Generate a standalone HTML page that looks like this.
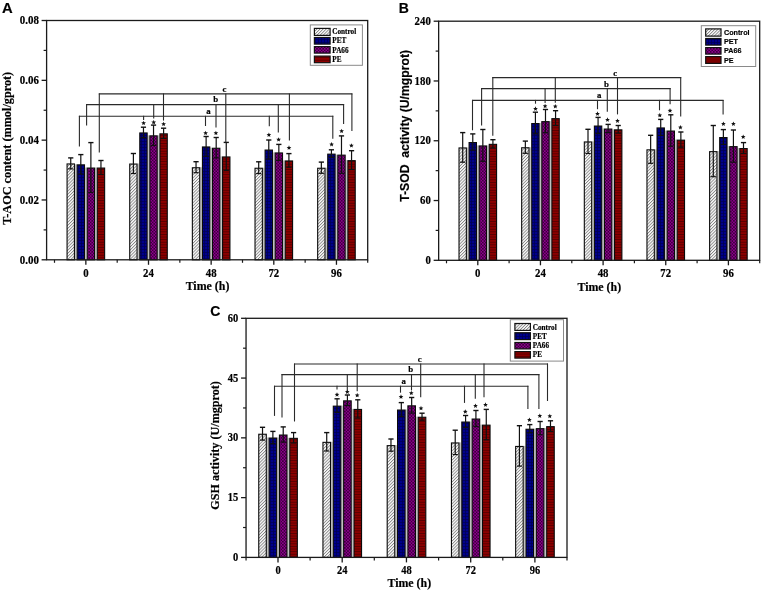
<!DOCTYPE html><html><head><meta charset="utf-8"><style>html,body{margin:0;padding:0;background:#fff;}svg{display:block;filter:blur(0.35px);} text{fill:#000;stroke:#000;stroke-width:0.18px;}</style></head><body>
<svg width="763" height="592" viewBox="0 0 763 592">
<defs>
<pattern id="pC" patternUnits="userSpaceOnUse" width="2.2" height="2.2" patternTransform="rotate(45)">
<rect width="2.2" height="2.2" fill="#fafafa"/><rect width="0.85" height="2.2" fill="#858585"/></pattern>
<pattern id="pPET" patternUnits="userSpaceOnUse" width="3" height="3">
<rect width="3" height="3" fill="#00008c"/><rect width="0.7" height="3" fill="#000050"/><rect width="3" height="0.7" fill="#000050"/></pattern>
<pattern id="pPA" patternUnits="userSpaceOnUse" width="3.1" height="3.1">
<rect width="3.1" height="3.1" fill="#3c003c"/><rect width="1.55" height="1.55" fill="#8e008e"/><rect x="1.55" y="1.55" width="1.55" height="1.55" fill="#8e008e"/></pattern>
<pattern id="pPE" patternUnits="userSpaceOnUse" width="2.6" height="2.6">
<rect width="2.6" height="2.6" fill="#8c0000"/><rect width="2.6" height="0.8" fill="#520000"/></pattern>
</defs>
<rect width="763" height="592" fill="#fff"/>
<rect x="74.97" y="164.3" width="1.62" height="95.5" fill="#c0c0c0"/>
<rect x="67.07" y="163.95" width="7.35" height="95.85" fill="url(#pC)" stroke="#0a0a0a" stroke-width="1.1"/>
<line x1="70.74" y1="157.9" x2="70.74" y2="168.9" stroke="#111" stroke-width="1.2"/>
<line x1="68.14" y1="157.9" x2="73.34" y2="157.9" stroke="#111" stroke-width="1.4"/>
<line x1="68.14" y1="168.9" x2="73.34" y2="168.9" stroke="#111" stroke-width="1.2"/>
<rect x="85.04" y="167.5" width="1.62" height="92.3" fill="#c0c0c0"/>
<rect x="77.14" y="164.85" width="7.35" height="94.95" fill="url(#pPET)" stroke="#0a0a0a" stroke-width="1.1"/>
<line x1="80.81" y1="154.6" x2="80.81" y2="174" stroke="#111" stroke-width="1.2"/>
<line x1="78.21" y1="154.6" x2="83.41" y2="154.6" stroke="#111" stroke-width="1.4"/>
<line x1="78.21" y1="174" x2="83.41" y2="174" stroke="#111" stroke-width="1.2"/>
<rect x="95.11" y="167.5" width="1.62" height="92.3" fill="#c0c0c0"/>
<rect x="87.21" y="168.05" width="7.35" height="91.75" fill="url(#pPA)" stroke="#0a0a0a" stroke-width="1.1"/>
<line x1="90.88" y1="142.6" x2="90.88" y2="192.4" stroke="#111" stroke-width="1.2"/>
<line x1="88.28" y1="142.6" x2="93.48" y2="142.6" stroke="#111" stroke-width="1.4"/>
<line x1="88.28" y1="192.4" x2="93.48" y2="192.4" stroke="#111" stroke-width="1.2"/>
<rect x="97.28" y="168.05" width="7.35" height="91.75" fill="url(#pPE)" stroke="#0a0a0a" stroke-width="1.1"/>
<line x1="100.95" y1="160.5" x2="100.95" y2="174.5" stroke="#111" stroke-width="1.2"/>
<line x1="98.35" y1="160.5" x2="103.55" y2="160.5" stroke="#111" stroke-width="1.4"/>
<line x1="98.35" y1="174.5" x2="103.55" y2="174.5" stroke="#111" stroke-width="1.2"/>
<rect x="137.62" y="163.5" width="1.62" height="96.3" fill="#c0c0c0"/>
<rect x="129.72" y="164.05" width="7.35" height="95.75" fill="url(#pC)" stroke="#0a0a0a" stroke-width="1.1"/>
<line x1="133.4" y1="153.5" x2="133.4" y2="173.5" stroke="#111" stroke-width="1.2"/>
<line x1="130.8" y1="153.5" x2="136" y2="153.5" stroke="#111" stroke-width="1.4"/>
<line x1="130.8" y1="173.5" x2="136" y2="173.5" stroke="#111" stroke-width="1.2"/>
<rect x="147.69" y="135.3" width="1.62" height="124.5" fill="#c0c0c0"/>
<rect x="139.79" y="132.95" width="7.35" height="126.85" fill="url(#pPET)" stroke="#0a0a0a" stroke-width="1.1"/>
<line x1="143.47" y1="127.2" x2="143.47" y2="137.6" stroke="#111" stroke-width="1.2"/>
<line x1="140.87" y1="127.2" x2="146.06" y2="127.2" stroke="#111" stroke-width="1.4"/>
<line x1="140.87" y1="137.6" x2="146.06" y2="137.6" stroke="#111" stroke-width="1.2"/>
<rect x="157.76" y="135.3" width="1.62" height="124.5" fill="#c0c0c0"/>
<rect x="149.86" y="135.85" width="7.35" height="123.95" fill="url(#pPA)" stroke="#0a0a0a" stroke-width="1.1"/>
<line x1="153.53" y1="125.1" x2="153.53" y2="145.5" stroke="#111" stroke-width="1.2"/>
<line x1="150.94" y1="125.1" x2="156.13" y2="125.1" stroke="#111" stroke-width="1.4"/>
<line x1="150.94" y1="145.5" x2="156.13" y2="145.5" stroke="#111" stroke-width="1.2"/>
<rect x="159.93" y="133.85" width="7.35" height="125.95" fill="url(#pPE)" stroke="#0a0a0a" stroke-width="1.1"/>
<line x1="163.6" y1="128.2" x2="163.6" y2="138.4" stroke="#111" stroke-width="1.2"/>
<line x1="161" y1="128.2" x2="166.2" y2="128.2" stroke="#111" stroke-width="1.4"/>
<line x1="161" y1="138.4" x2="166.2" y2="138.4" stroke="#111" stroke-width="1.2"/>
<rect x="200.27" y="167.2" width="1.62" height="92.6" fill="#c0c0c0"/>
<rect x="192.37" y="167.75" width="7.35" height="92.05" fill="url(#pC)" stroke="#0a0a0a" stroke-width="1.1"/>
<line x1="196.04" y1="161.7" x2="196.04" y2="172.7" stroke="#111" stroke-width="1.2"/>
<line x1="193.44" y1="161.7" x2="198.64" y2="161.7" stroke="#111" stroke-width="1.4"/>
<line x1="193.44" y1="172.7" x2="198.64" y2="172.7" stroke="#111" stroke-width="1.2"/>
<rect x="210.34" y="147.7" width="1.62" height="112.1" fill="#c0c0c0"/>
<rect x="202.44" y="146.95" width="7.35" height="112.85" fill="url(#pPET)" stroke="#0a0a0a" stroke-width="1.1"/>
<line x1="206.12" y1="136.5" x2="206.12" y2="156.3" stroke="#111" stroke-width="1.2"/>
<line x1="203.52" y1="136.5" x2="208.72" y2="136.5" stroke="#111" stroke-width="1.4"/>
<line x1="203.52" y1="156.3" x2="208.72" y2="156.3" stroke="#111" stroke-width="1.2"/>
<rect x="220.41" y="156.4" width="1.62" height="103.4" fill="#c0c0c0"/>
<rect x="212.51" y="148.25" width="7.35" height="111.55" fill="url(#pPA)" stroke="#0a0a0a" stroke-width="1.1"/>
<line x1="216.19" y1="137.5" x2="216.19" y2="157.9" stroke="#111" stroke-width="1.2"/>
<line x1="213.59" y1="137.5" x2="218.78" y2="137.5" stroke="#111" stroke-width="1.4"/>
<line x1="213.59" y1="157.9" x2="218.78" y2="157.9" stroke="#111" stroke-width="1.2"/>
<rect x="222.58" y="156.95" width="7.35" height="102.85" fill="url(#pPE)" stroke="#0a0a0a" stroke-width="1.1"/>
<line x1="226.25" y1="142.4" x2="226.25" y2="170.4" stroke="#111" stroke-width="1.2"/>
<line x1="223.66" y1="142.4" x2="228.85" y2="142.4" stroke="#111" stroke-width="1.4"/>
<line x1="223.66" y1="170.4" x2="228.85" y2="170.4" stroke="#111" stroke-width="1.2"/>
<rect x="262.92" y="167.7" width="1.62" height="92.1" fill="#c0c0c0"/>
<rect x="255.02" y="168.25" width="7.35" height="91.55" fill="url(#pC)" stroke="#0a0a0a" stroke-width="1.1"/>
<line x1="258.7" y1="161.8" x2="258.7" y2="173.6" stroke="#111" stroke-width="1.2"/>
<line x1="256.1" y1="161.8" x2="261.3" y2="161.8" stroke="#111" stroke-width="1.4"/>
<line x1="256.1" y1="173.6" x2="261.3" y2="173.6" stroke="#111" stroke-width="1.2"/>
<rect x="272.99" y="152.4" width="1.62" height="107.4" fill="#c0c0c0"/>
<rect x="265.09" y="150.05" width="7.35" height="109.75" fill="url(#pPET)" stroke="#0a0a0a" stroke-width="1.1"/>
<line x1="268.77" y1="140" x2="268.77" y2="159" stroke="#111" stroke-width="1.2"/>
<line x1="266.17" y1="140" x2="271.37" y2="140" stroke="#111" stroke-width="1.4"/>
<line x1="266.17" y1="159" x2="271.37" y2="159" stroke="#111" stroke-width="1.2"/>
<rect x="283.06" y="160.4" width="1.62" height="99.4" fill="#c0c0c0"/>
<rect x="275.16" y="152.95" width="7.35" height="106.85" fill="url(#pPA)" stroke="#0a0a0a" stroke-width="1.1"/>
<line x1="278.84" y1="144.4" x2="278.84" y2="160.4" stroke="#111" stroke-width="1.2"/>
<line x1="276.24" y1="144.4" x2="281.44" y2="144.4" stroke="#111" stroke-width="1.4"/>
<line x1="276.24" y1="160.4" x2="281.44" y2="160.4" stroke="#111" stroke-width="1.2"/>
<rect x="285.23" y="160.95" width="7.35" height="98.85" fill="url(#pPE)" stroke="#0a0a0a" stroke-width="1.1"/>
<line x1="288.91" y1="153.6" x2="288.91" y2="167.2" stroke="#111" stroke-width="1.2"/>
<line x1="286.31" y1="153.6" x2="291.51" y2="153.6" stroke="#111" stroke-width="1.4"/>
<line x1="286.31" y1="167.2" x2="291.51" y2="167.2" stroke="#111" stroke-width="1.2"/>
<rect x="325.57" y="167.7" width="1.62" height="92.1" fill="#c0c0c0"/>
<rect x="317.67" y="168.25" width="7.35" height="91.55" fill="url(#pC)" stroke="#0a0a0a" stroke-width="1.1"/>
<line x1="321.35" y1="162.1" x2="321.35" y2="173.3" stroke="#111" stroke-width="1.2"/>
<line x1="318.75" y1="162.1" x2="323.95" y2="162.1" stroke="#111" stroke-width="1.4"/>
<line x1="318.75" y1="173.3" x2="323.95" y2="173.3" stroke="#111" stroke-width="1.2"/>
<rect x="335.64" y="154.6" width="1.62" height="105.2" fill="#c0c0c0"/>
<rect x="327.74" y="154.15" width="7.35" height="105.65" fill="url(#pPET)" stroke="#0a0a0a" stroke-width="1.1"/>
<line x1="331.42" y1="149.8" x2="331.42" y2="157.4" stroke="#111" stroke-width="1.2"/>
<line x1="328.81" y1="149.8" x2="334.02" y2="149.8" stroke="#111" stroke-width="1.4"/>
<line x1="328.81" y1="157.4" x2="334.02" y2="157.4" stroke="#111" stroke-width="1.2"/>
<rect x="345.71" y="160.1" width="1.62" height="99.7" fill="#c0c0c0"/>
<rect x="337.81" y="155.15" width="7.35" height="104.65" fill="url(#pPA)" stroke="#0a0a0a" stroke-width="1.1"/>
<line x1="341.49" y1="135.9" x2="341.49" y2="173.3" stroke="#111" stroke-width="1.2"/>
<line x1="338.88" y1="135.9" x2="344.09" y2="135.9" stroke="#111" stroke-width="1.4"/>
<line x1="338.88" y1="173.3" x2="344.09" y2="173.3" stroke="#111" stroke-width="1.2"/>
<rect x="347.88" y="160.65" width="7.35" height="99.15" fill="url(#pPE)" stroke="#0a0a0a" stroke-width="1.1"/>
<line x1="351.56" y1="150.7" x2="351.56" y2="169.5" stroke="#111" stroke-width="1.2"/>
<line x1="348.95" y1="150.7" x2="354.16" y2="150.7" stroke="#111" stroke-width="1.4"/>
<line x1="348.95" y1="169.5" x2="354.16" y2="169.5" stroke="#111" stroke-width="1.2"/>
<polygon points="143.6,120.65 144.25,122.21 145.93,122.34 144.65,123.44 145.04,125.08 143.6,124.2 142.16,125.08 142.55,123.44 141.27,122.34 142.95,122.21" fill="#111"/>
<polygon points="153.7,119.85 154.35,121.41 156.03,121.54 154.75,122.64 155.14,124.28 153.7,123.4 152.26,124.28 152.65,122.64 151.37,121.54 153.05,121.41" fill="#111"/>
<polygon points="163.6,121.65 164.25,123.21 165.93,123.34 164.65,124.44 165.04,126.08 163.6,125.2 162.16,126.08 162.55,124.44 161.27,123.34 162.95,123.21" fill="#111"/>
<polygon points="205.6,130.65 206.25,132.21 207.93,132.34 206.65,133.44 207.04,135.08 205.6,134.2 204.16,135.08 204.55,133.44 203.27,132.34 204.95,132.21" fill="#111"/>
<polygon points="215.9,130.65 216.55,132.21 218.23,132.34 216.95,133.44 217.34,135.08 215.9,134.2 214.46,135.08 214.85,133.44 213.57,132.34 215.25,132.21" fill="#111"/>
<polygon points="268.9,132.45 269.55,134.01 271.23,134.14 269.95,135.24 270.34,136.88 268.9,136 267.46,136.88 267.85,135.24 266.57,134.14 268.25,134.01" fill="#111"/>
<polygon points="278.6,137.15 279.25,138.71 280.93,138.84 279.65,139.94 280.04,141.58 278.6,140.7 277.16,141.58 277.55,139.94 276.27,138.84 277.95,138.71" fill="#111"/>
<polygon points="289,145.35 289.65,146.91 291.33,147.04 290.05,148.14 290.44,149.78 289,148.9 287.56,149.78 287.95,148.14 286.67,147.04 288.35,146.91" fill="#111"/>
<polygon points="331.6,141.95 332.25,143.51 333.93,143.64 332.65,144.74 333.04,146.38 331.6,145.5 330.16,146.38 330.55,144.74 329.27,143.64 330.95,143.51" fill="#111"/>
<polygon points="341.6,128.65 342.25,130.21 343.93,130.34 342.65,131.44 343.04,133.08 341.6,132.2 340.16,133.08 340.55,131.44 339.27,130.34 340.95,130.21" fill="#111"/>
<polygon points="351.4,143.15 352.05,144.71 353.73,144.84 352.45,145.94 352.84,147.58 351.4,146.7 349.96,147.58 350.35,145.94 349.07,144.84 350.75,144.71" fill="#111"/>
<line x1="78.9" y1="116.3" x2="333.3" y2="116.3" stroke="#2a2a2a" stroke-width="1.1"/>
<line x1="79.4" y1="115.8" x2="79.4" y2="146.5" stroke="#2a2a2a" stroke-width="1.1"/>
<line x1="143.6" y1="115.8" x2="143.6" y2="120" stroke="#2a2a2a" stroke-width="1.1"/>
<line x1="205.5" y1="115.8" x2="205.5" y2="126" stroke="#2a2a2a" stroke-width="1.1"/>
<line x1="269.3" y1="115.8" x2="269.3" y2="126.3" stroke="#2a2a2a" stroke-width="1.1"/>
<line x1="332.8" y1="115.8" x2="332.8" y2="138.8" stroke="#2a2a2a" stroke-width="1.1"/>
<line x1="86.1" y1="104.6" x2="344.1" y2="104.6" stroke="#2a2a2a" stroke-width="1.1"/>
<line x1="86.6" y1="104.1" x2="86.6" y2="125.4" stroke="#2a2a2a" stroke-width="1.1"/>
<line x1="153.7" y1="104.1" x2="153.7" y2="118.5" stroke="#2a2a2a" stroke-width="1.1"/>
<line x1="216" y1="104.1" x2="216" y2="127.4" stroke="#2a2a2a" stroke-width="1.1"/>
<line x1="278.3" y1="104.1" x2="278.3" y2="132.5" stroke="#2a2a2a" stroke-width="1.1"/>
<line x1="343.6" y1="104.1" x2="343.6" y2="124" stroke="#2a2a2a" stroke-width="1.1"/>
<line x1="98.8" y1="93.9" x2="352.4" y2="93.9" stroke="#2a2a2a" stroke-width="1.1"/>
<line x1="99.3" y1="93.4" x2="99.3" y2="152.4" stroke="#2a2a2a" stroke-width="1.1"/>
<line x1="163.5" y1="93.4" x2="163.5" y2="120.6" stroke="#2a2a2a" stroke-width="1.1"/>
<line x1="225.8" y1="93.4" x2="225.8" y2="142.4" stroke="#2a2a2a" stroke-width="1.1"/>
<line x1="289.4" y1="93.4" x2="289.4" y2="140.5" stroke="#2a2a2a" stroke-width="1.1"/>
<line x1="351.9" y1="93.4" x2="351.9" y2="131" stroke="#2a2a2a" stroke-width="1.1"/>
<text x="208.5" y="113.8" font-family='"Liberation Serif", serif' font-weight="bold" font-size="8.8" text-anchor="middle">a</text>
<text x="215.7" y="102.1" font-family='"Liberation Serif", serif' font-weight="bold" font-size="8.8" text-anchor="middle">b</text>
<text x="224.5" y="92" font-family='"Liberation Serif", serif' font-weight="bold" font-size="8.8" text-anchor="middle">c</text>
<rect x="46.6" y="20.5" width="321.1" height="239.3" fill="none" stroke="#1a1a1a" stroke-width="1.3"/>
<line x1="41.6" y1="259.8" x2="46.6" y2="259.8" stroke="#1a1a1a" stroke-width="1.3"/>
<text transform="translate(38.9 263.6) scale(1 1.13)" font-family='"Liberation Serif", serif' font-weight="bold" font-size="10.9" text-anchor="end">0.00</text>
<line x1="43.6" y1="229.89" x2="46.6" y2="229.89" stroke="#1a1a1a" stroke-width="1.2"/>
<line x1="41.6" y1="199.97" x2="46.6" y2="199.97" stroke="#1a1a1a" stroke-width="1.3"/>
<text transform="translate(38.9 203.78) scale(1 1.13)" font-family='"Liberation Serif", serif' font-weight="bold" font-size="10.9" text-anchor="end">0.02</text>
<line x1="43.6" y1="170.06" x2="46.6" y2="170.06" stroke="#1a1a1a" stroke-width="1.2"/>
<line x1="41.6" y1="140.15" x2="46.6" y2="140.15" stroke="#1a1a1a" stroke-width="1.3"/>
<text transform="translate(38.9 143.95) scale(1 1.13)" font-family='"Liberation Serif", serif' font-weight="bold" font-size="10.9" text-anchor="end">0.04</text>
<line x1="43.6" y1="110.24" x2="46.6" y2="110.24" stroke="#1a1a1a" stroke-width="1.2"/>
<line x1="41.6" y1="80.33" x2="46.6" y2="80.33" stroke="#1a1a1a" stroke-width="1.3"/>
<text transform="translate(38.9 84.12) scale(1 1.13)" font-family='"Liberation Serif", serif' font-weight="bold" font-size="10.9" text-anchor="end">0.06</text>
<line x1="43.6" y1="50.41" x2="46.6" y2="50.41" stroke="#1a1a1a" stroke-width="1.2"/>
<line x1="41.6" y1="20.5" x2="46.6" y2="20.5" stroke="#1a1a1a" stroke-width="1.3"/>
<text transform="translate(38.9 24.3) scale(1 1.13)" font-family='"Liberation Serif", serif' font-weight="bold" font-size="10.9" text-anchor="end">0.08</text>
<line x1="85.85" y1="259.8" x2="85.85" y2="264.8" stroke="#1a1a1a" stroke-width="1.3"/>
<text transform="translate(85.85 276.6) scale(1 1.17)" font-family='"Liberation Serif", serif' font-weight="bold" font-size="10.8" text-anchor="middle">0</text>
<line x1="148.5" y1="259.8" x2="148.5" y2="264.8" stroke="#1a1a1a" stroke-width="1.3"/>
<text transform="translate(148.5 276.6) scale(1 1.17)" font-family='"Liberation Serif", serif' font-weight="bold" font-size="10.8" text-anchor="middle">24</text>
<line x1="211.15" y1="259.8" x2="211.15" y2="264.8" stroke="#1a1a1a" stroke-width="1.3"/>
<text transform="translate(211.15 276.6) scale(1 1.17)" font-family='"Liberation Serif", serif' font-weight="bold" font-size="10.8" text-anchor="middle">48</text>
<line x1="273.8" y1="259.8" x2="273.8" y2="264.8" stroke="#1a1a1a" stroke-width="1.3"/>
<text transform="translate(273.8 276.6) scale(1 1.17)" font-family='"Liberation Serif", serif' font-weight="bold" font-size="10.8" text-anchor="middle">72</text>
<line x1="336.45" y1="259.8" x2="336.45" y2="264.8" stroke="#1a1a1a" stroke-width="1.3"/>
<text transform="translate(336.45 276.6) scale(1 1.17)" font-family='"Liberation Serif", serif' font-weight="bold" font-size="10.8" text-anchor="middle">96</text>
<line x1="54.5" y1="259.8" x2="54.5" y2="262.8" stroke="#1a1a1a" stroke-width="1.2"/>
<line x1="117.2" y1="259.8" x2="117.2" y2="262.8" stroke="#1a1a1a" stroke-width="1.2"/>
<line x1="179.85" y1="259.8" x2="179.85" y2="262.8" stroke="#1a1a1a" stroke-width="1.2"/>
<line x1="242.5" y1="259.8" x2="242.5" y2="262.8" stroke="#1a1a1a" stroke-width="1.2"/>
<line x1="305.15" y1="259.8" x2="305.15" y2="262.8" stroke="#1a1a1a" stroke-width="1.2"/>
<line x1="367.7" y1="259.8" x2="367.7" y2="262.8" stroke="#1a1a1a" stroke-width="1.2"/>
<text transform="translate(207.5 290.2) scale(1 1.04)" font-family='"Liberation Serif", serif' font-weight="bold" font-size="11.9" text-anchor="middle">Time (h)</text>
<text transform="translate(10.9 148.3) rotate(-90)" font-family='"Liberation Serif", serif' font-weight="bold" font-size="11.8" text-anchor="middle" textLength="153" lengthAdjust="spacingAndGlyphs">T-AOC content (mmol/gprot)</text>
<text x="1.9" y="12.7" font-family='"Liberation Sans", sans-serif' font-weight="bold" font-size="14.8">A</text>
<rect x="310.3" y="24.9" width="52.1" height="40.4" fill="#fff" stroke="#8a8a8a" stroke-width="1"/>
<rect x="314.4" y="28.4" width="15.7" height="7" fill="url(#pC)" stroke="#111" stroke-width="1.2"/>
<text transform="translate(332.3 34.2) scale(1 1)" font-family='"Liberation Serif", serif' font-weight="bold" font-size="7.2">Control</text>
<rect x="314.4" y="37.5" width="15.7" height="6.6" fill="url(#pPET)" stroke="#111" stroke-width="1.2"/>
<text transform="translate(332.3 43.4) scale(1 1)" font-family='"Liberation Serif", serif' font-weight="bold" font-size="7.2">PET</text>
<rect x="314.4" y="46.6" width="15.7" height="6.5" fill="url(#pPA)" stroke="#111" stroke-width="1.2"/>
<text transform="translate(332.3 52.8) scale(1 1)" font-family='"Liberation Serif", serif' font-weight="bold" font-size="7.2">PA66</text>
<rect x="314.4" y="56.1" width="15.7" height="6.6" fill="url(#pPE)" stroke="#111" stroke-width="1.2"/>
<text transform="translate(332.3 61.8) scale(1 1)" font-family='"Liberation Serif", serif' font-weight="bold" font-size="7.2">PE</text>
<rect x="466.92" y="147.4" width="1.62" height="112.9" fill="#c0c0c0"/>
<rect x="459.02" y="147.95" width="7.35" height="112.35" fill="url(#pC)" stroke="#0a0a0a" stroke-width="1.1"/>
<line x1="462.7" y1="132.6" x2="462.7" y2="162.2" stroke="#111" stroke-width="1.2"/>
<line x1="460.1" y1="132.6" x2="465.3" y2="132.6" stroke="#111" stroke-width="1.4"/>
<line x1="460.1" y1="162.2" x2="465.3" y2="162.2" stroke="#111" stroke-width="1.2"/>
<rect x="476.99" y="145.4" width="1.62" height="114.9" fill="#c0c0c0"/>
<rect x="469.09" y="142.55" width="7.35" height="117.75" fill="url(#pPET)" stroke="#0a0a0a" stroke-width="1.1"/>
<line x1="472.77" y1="133.9" x2="472.77" y2="150.1" stroke="#111" stroke-width="1.2"/>
<line x1="470.17" y1="133.9" x2="475.37" y2="133.9" stroke="#111" stroke-width="1.4"/>
<line x1="470.17" y1="150.1" x2="475.37" y2="150.1" stroke="#111" stroke-width="1.2"/>
<rect x="487.06" y="145.4" width="1.62" height="114.9" fill="#c0c0c0"/>
<rect x="479.16" y="145.95" width="7.35" height="114.35" fill="url(#pPA)" stroke="#0a0a0a" stroke-width="1.1"/>
<line x1="482.84" y1="129.5" x2="482.84" y2="161.3" stroke="#111" stroke-width="1.2"/>
<line x1="480.24" y1="129.5" x2="485.44" y2="129.5" stroke="#111" stroke-width="1.4"/>
<line x1="480.24" y1="161.3" x2="485.44" y2="161.3" stroke="#111" stroke-width="1.2"/>
<rect x="489.23" y="144.35" width="7.35" height="115.95" fill="url(#pPE)" stroke="#0a0a0a" stroke-width="1.1"/>
<line x1="492.91" y1="139.7" x2="492.91" y2="147.9" stroke="#111" stroke-width="1.2"/>
<line x1="490.31" y1="139.7" x2="495.51" y2="139.7" stroke="#111" stroke-width="1.4"/>
<line x1="490.31" y1="147.9" x2="495.51" y2="147.9" stroke="#111" stroke-width="1.2"/>
<rect x="529.57" y="147.2" width="1.62" height="113.1" fill="#c0c0c0"/>
<rect x="521.67" y="147.75" width="7.35" height="112.55" fill="url(#pC)" stroke="#0a0a0a" stroke-width="1.1"/>
<line x1="525.35" y1="141.1" x2="525.35" y2="153.3" stroke="#111" stroke-width="1.2"/>
<line x1="522.75" y1="141.1" x2="527.95" y2="141.1" stroke="#111" stroke-width="1.4"/>
<line x1="522.75" y1="153.3" x2="527.95" y2="153.3" stroke="#111" stroke-width="1.2"/>
<rect x="539.64" y="123" width="1.62" height="137.3" fill="#c0c0c0"/>
<rect x="531.74" y="123.55" width="7.35" height="136.75" fill="url(#pPET)" stroke="#0a0a0a" stroke-width="1.1"/>
<line x1="535.42" y1="112.2" x2="535.42" y2="133.8" stroke="#111" stroke-width="1.2"/>
<line x1="532.82" y1="112.2" x2="538.02" y2="112.2" stroke="#111" stroke-width="1.4"/>
<line x1="532.82" y1="133.8" x2="538.02" y2="133.8" stroke="#111" stroke-width="1.2"/>
<rect x="549.71" y="121.1" width="1.62" height="139.2" fill="#c0c0c0"/>
<rect x="541.81" y="121.65" width="7.35" height="138.65" fill="url(#pPA)" stroke="#0a0a0a" stroke-width="1.1"/>
<line x1="545.49" y1="109.5" x2="545.49" y2="132.7" stroke="#111" stroke-width="1.2"/>
<line x1="542.88" y1="109.5" x2="548.09" y2="109.5" stroke="#111" stroke-width="1.4"/>
<line x1="542.88" y1="132.7" x2="548.09" y2="132.7" stroke="#111" stroke-width="1.2"/>
<rect x="551.88" y="118.65" width="7.35" height="141.65" fill="url(#pPE)" stroke="#0a0a0a" stroke-width="1.1"/>
<line x1="555.56" y1="110.7" x2="555.56" y2="125.5" stroke="#111" stroke-width="1.2"/>
<line x1="552.96" y1="110.7" x2="558.16" y2="110.7" stroke="#111" stroke-width="1.4"/>
<line x1="552.96" y1="125.5" x2="558.16" y2="125.5" stroke="#111" stroke-width="1.2"/>
<rect x="592.22" y="141.4" width="1.62" height="118.9" fill="#c0c0c0"/>
<rect x="584.32" y="141.95" width="7.35" height="118.35" fill="url(#pC)" stroke="#0a0a0a" stroke-width="1.1"/>
<line x1="588" y1="129.3" x2="588" y2="153.5" stroke="#111" stroke-width="1.2"/>
<line x1="585.39" y1="129.3" x2="590.6" y2="129.3" stroke="#111" stroke-width="1.4"/>
<line x1="585.39" y1="153.5" x2="590.6" y2="153.5" stroke="#111" stroke-width="1.2"/>
<rect x="602.29" y="128.5" width="1.62" height="131.8" fill="#c0c0c0"/>
<rect x="594.39" y="126.05" width="7.35" height="134.25" fill="url(#pPET)" stroke="#0a0a0a" stroke-width="1.1"/>
<line x1="598.07" y1="117.4" x2="598.07" y2="133.6" stroke="#111" stroke-width="1.2"/>
<line x1="595.47" y1="117.4" x2="600.67" y2="117.4" stroke="#111" stroke-width="1.4"/>
<line x1="595.47" y1="133.6" x2="600.67" y2="133.6" stroke="#111" stroke-width="1.2"/>
<rect x="612.36" y="129.3" width="1.62" height="131" fill="#c0c0c0"/>
<rect x="604.46" y="129.05" width="7.35" height="131.25" fill="url(#pPA)" stroke="#0a0a0a" stroke-width="1.1"/>
<line x1="608.13" y1="124.4" x2="608.13" y2="132.6" stroke="#111" stroke-width="1.2"/>
<line x1="605.53" y1="124.4" x2="610.74" y2="124.4" stroke="#111" stroke-width="1.4"/>
<line x1="605.53" y1="132.6" x2="610.74" y2="132.6" stroke="#111" stroke-width="1.2"/>
<rect x="614.53" y="129.85" width="7.35" height="130.45" fill="url(#pPE)" stroke="#0a0a0a" stroke-width="1.1"/>
<line x1="618.21" y1="125.5" x2="618.21" y2="133.1" stroke="#111" stroke-width="1.2"/>
<line x1="615.61" y1="125.5" x2="620.81" y2="125.5" stroke="#111" stroke-width="1.4"/>
<line x1="615.61" y1="133.1" x2="620.81" y2="133.1" stroke="#111" stroke-width="1.2"/>
<rect x="654.87" y="149.3" width="1.62" height="111" fill="#c0c0c0"/>
<rect x="646.97" y="149.85" width="7.35" height="110.45" fill="url(#pC)" stroke="#0a0a0a" stroke-width="1.1"/>
<line x1="650.64" y1="135.3" x2="650.64" y2="163.3" stroke="#111" stroke-width="1.2"/>
<line x1="648.04" y1="135.3" x2="653.25" y2="135.3" stroke="#111" stroke-width="1.4"/>
<line x1="648.04" y1="163.3" x2="653.25" y2="163.3" stroke="#111" stroke-width="1.2"/>
<rect x="664.94" y="130.5" width="1.62" height="129.8" fill="#c0c0c0"/>
<rect x="657.04" y="127.95" width="7.35" height="132.35" fill="url(#pPET)" stroke="#0a0a0a" stroke-width="1.1"/>
<line x1="660.72" y1="119.4" x2="660.72" y2="135.4" stroke="#111" stroke-width="1.2"/>
<line x1="658.12" y1="119.4" x2="663.32" y2="119.4" stroke="#111" stroke-width="1.4"/>
<line x1="658.12" y1="135.4" x2="663.32" y2="135.4" stroke="#111" stroke-width="1.2"/>
<rect x="675.01" y="139.6" width="1.62" height="120.7" fill="#c0c0c0"/>
<rect x="667.11" y="131.05" width="7.35" height="129.25" fill="url(#pPA)" stroke="#0a0a0a" stroke-width="1.1"/>
<line x1="670.78" y1="114.8" x2="670.78" y2="146.2" stroke="#111" stroke-width="1.2"/>
<line x1="668.18" y1="114.8" x2="673.38" y2="114.8" stroke="#111" stroke-width="1.4"/>
<line x1="668.18" y1="146.2" x2="673.38" y2="146.2" stroke="#111" stroke-width="1.2"/>
<rect x="677.18" y="140.15" width="7.35" height="120.15" fill="url(#pPE)" stroke="#0a0a0a" stroke-width="1.1"/>
<line x1="680.86" y1="132" x2="680.86" y2="147.2" stroke="#111" stroke-width="1.2"/>
<line x1="678.25" y1="132" x2="683.46" y2="132" stroke="#111" stroke-width="1.4"/>
<line x1="678.25" y1="147.2" x2="683.46" y2="147.2" stroke="#111" stroke-width="1.2"/>
<rect x="717.52" y="151.1" width="1.62" height="109.2" fill="#c0c0c0"/>
<rect x="709.62" y="151.65" width="7.35" height="108.65" fill="url(#pC)" stroke="#0a0a0a" stroke-width="1.1"/>
<line x1="713.29" y1="125.5" x2="713.29" y2="176.7" stroke="#111" stroke-width="1.2"/>
<line x1="710.69" y1="125.5" x2="715.89" y2="125.5" stroke="#111" stroke-width="1.4"/>
<line x1="710.69" y1="176.7" x2="715.89" y2="176.7" stroke="#111" stroke-width="1.2"/>
<rect x="727.59" y="146.1" width="1.62" height="114.2" fill="#c0c0c0"/>
<rect x="719.69" y="137.55" width="7.35" height="122.75" fill="url(#pPET)" stroke="#0a0a0a" stroke-width="1.1"/>
<line x1="723.37" y1="129.6" x2="723.37" y2="144.4" stroke="#111" stroke-width="1.2"/>
<line x1="720.76" y1="129.6" x2="725.97" y2="129.6" stroke="#111" stroke-width="1.4"/>
<line x1="720.76" y1="144.4" x2="725.97" y2="144.4" stroke="#111" stroke-width="1.2"/>
<rect x="737.66" y="148" width="1.62" height="112.3" fill="#c0c0c0"/>
<rect x="729.76" y="146.65" width="7.35" height="113.65" fill="url(#pPA)" stroke="#0a0a0a" stroke-width="1.1"/>
<line x1="733.43" y1="130" x2="733.43" y2="162.2" stroke="#111" stroke-width="1.2"/>
<line x1="730.83" y1="130" x2="736.03" y2="130" stroke="#111" stroke-width="1.4"/>
<line x1="730.83" y1="162.2" x2="736.03" y2="162.2" stroke="#111" stroke-width="1.2"/>
<rect x="739.83" y="148.55" width="7.35" height="111.75" fill="url(#pPE)" stroke="#0a0a0a" stroke-width="1.1"/>
<line x1="743.5" y1="142.6" x2="743.5" y2="153.4" stroke="#111" stroke-width="1.2"/>
<line x1="740.9" y1="142.6" x2="746.11" y2="142.6" stroke="#111" stroke-width="1.4"/>
<line x1="740.9" y1="153.4" x2="746.11" y2="153.4" stroke="#111" stroke-width="1.2"/>
<polygon points="535.5,106.35 536.15,107.91 537.83,108.04 536.55,109.14 536.94,110.78 535.5,109.9 534.06,110.78 534.45,109.14 533.17,108.04 534.85,107.91" fill="#111"/>
<polygon points="545.1,103.75 545.75,105.31 547.43,105.44 546.15,106.54 546.54,108.18 545.1,107.3 543.66,108.18 544.05,106.54 542.77,105.44 544.45,105.31" fill="#111"/>
<polygon points="555.3,104.05 555.95,105.61 557.63,105.74 556.35,106.84 556.74,108.48 555.3,107.6 553.86,108.48 554.25,106.84 552.97,105.74 554.65,105.61" fill="#111"/>
<polygon points="597.5,111.35 598.15,112.91 599.83,113.04 598.55,114.14 598.94,115.78 597.5,114.9 596.06,115.78 596.45,114.14 595.17,113.04 596.85,112.91" fill="#111"/>
<polygon points="607.5,117.35 608.15,118.91 609.83,119.04 608.55,120.14 608.94,121.78 607.5,120.9 606.06,121.78 606.45,120.14 605.17,119.04 606.85,118.91" fill="#111"/>
<polygon points="617.5,118.45 618.15,120.01 619.83,120.14 618.55,121.24 618.94,122.88 617.5,122 616.06,122.88 616.45,121.24 615.17,120.14 616.85,120.01" fill="#111"/>
<polygon points="659.8,112.85 660.45,114.41 662.13,114.54 660.85,115.64 661.24,117.28 659.8,116.4 658.36,117.28 658.75,115.64 657.47,114.54 659.15,114.41" fill="#111"/>
<polygon points="670,108.25 670.65,109.81 672.33,109.94 671.05,111.04 671.44,112.68 670,111.8 668.56,112.68 668.95,111.04 667.67,109.94 669.35,109.81" fill="#111"/>
<polygon points="680.4,124.95 681.05,126.51 682.73,126.64 681.45,127.74 681.84,129.38 680.4,128.5 678.96,129.38 679.35,127.74 678.07,126.64 679.75,126.51" fill="#111"/>
<polygon points="723.4,121.55 724.05,123.11 725.73,123.24 724.45,124.34 724.84,125.98 723.4,125.1 721.96,125.98 722.35,124.34 721.07,123.24 722.75,123.11" fill="#111"/>
<polygon points="733.4,121.55 734.05,123.11 735.73,123.24 734.45,124.34 734.84,125.98 733.4,125.1 731.96,125.98 732.35,124.34 731.07,123.24 732.75,123.11" fill="#111"/>
<polygon points="743.2,134.45 743.85,136.01 745.53,136.14 744.25,137.24 744.64,138.88 743.2,138 741.76,138.88 742.15,137.24 740.87,136.14 742.55,136.01" fill="#111"/>
<line x1="472" y1="100.4" x2="723.6" y2="100.4" stroke="#2a2a2a" stroke-width="1.1"/>
<line x1="472.5" y1="99.9" x2="472.5" y2="130.3" stroke="#2a2a2a" stroke-width="1.1"/>
<line x1="535.5" y1="99.9" x2="535.5" y2="103.7" stroke="#2a2a2a" stroke-width="1.1"/>
<line x1="597.5" y1="99.9" x2="597.5" y2="109.2" stroke="#2a2a2a" stroke-width="1.1"/>
<line x1="659.5" y1="99.9" x2="659.5" y2="110.3" stroke="#2a2a2a" stroke-width="1.1"/>
<line x1="723.1" y1="99.9" x2="723.1" y2="114.4" stroke="#2a2a2a" stroke-width="1.1"/>
<line x1="481.1" y1="88.6" x2="670.6" y2="88.6" stroke="#2a2a2a" stroke-width="1.1"/>
<line x1="481.6" y1="88.1" x2="481.6" y2="125.4" stroke="#2a2a2a" stroke-width="1.1"/>
<line x1="545.1" y1="88.1" x2="545.1" y2="103.1" stroke="#2a2a2a" stroke-width="1.1"/>
<line x1="607.3" y1="88.1" x2="607.3" y2="111.8" stroke="#2a2a2a" stroke-width="1.1"/>
<line x1="670.1" y1="88.1" x2="670.1" y2="104.2" stroke="#2a2a2a" stroke-width="1.1"/>
<line x1="492.3" y1="77.6" x2="681.2" y2="77.6" stroke="#2a2a2a" stroke-width="1.1"/>
<line x1="492.8" y1="77.1" x2="492.8" y2="135.7" stroke="#2a2a2a" stroke-width="1.1"/>
<line x1="555.3" y1="77.1" x2="555.3" y2="102.7" stroke="#2a2a2a" stroke-width="1.1"/>
<line x1="617.5" y1="77.1" x2="617.5" y2="114.4" stroke="#2a2a2a" stroke-width="1.1"/>
<line x1="680.7" y1="77.1" x2="680.7" y2="116.4" stroke="#2a2a2a" stroke-width="1.1"/>
<text x="599.2" y="97.6" font-family='"Liberation Serif", serif' font-weight="bold" font-size="8.8" text-anchor="middle">a</text>
<text x="606.5" y="86.5" font-family='"Liberation Serif", serif' font-weight="bold" font-size="8.8" text-anchor="middle">b</text>
<text x="615.2" y="75.7" font-family='"Liberation Serif", serif' font-weight="bold" font-size="8.8" text-anchor="middle">c</text>
<rect x="438.65" y="21.2" width="321.05" height="239.1" fill="none" stroke="#1a1a1a" stroke-width="1.3"/>
<line x1="433.65" y1="260.3" x2="438.65" y2="260.3" stroke="#1a1a1a" stroke-width="1.3"/>
<text transform="translate(430.8 264) scale(1 1.15)" font-family='"Liberation Serif", serif' font-weight="bold" font-size="10.8" text-anchor="end">0</text>
<line x1="435.65" y1="230.41" x2="438.65" y2="230.41" stroke="#1a1a1a" stroke-width="1.2"/>
<line x1="433.65" y1="200.53" x2="438.65" y2="200.53" stroke="#1a1a1a" stroke-width="1.3"/>
<text transform="translate(430.8 204.22) scale(1 1.15)" font-family='"Liberation Serif", serif' font-weight="bold" font-size="10.8" text-anchor="end">60</text>
<line x1="435.65" y1="170.64" x2="438.65" y2="170.64" stroke="#1a1a1a" stroke-width="1.2"/>
<line x1="433.65" y1="140.75" x2="438.65" y2="140.75" stroke="#1a1a1a" stroke-width="1.3"/>
<text transform="translate(430.8 144.45) scale(1 1.15)" font-family='"Liberation Serif", serif' font-weight="bold" font-size="10.8" text-anchor="end">120</text>
<line x1="435.65" y1="110.86" x2="438.65" y2="110.86" stroke="#1a1a1a" stroke-width="1.2"/>
<line x1="433.65" y1="80.97" x2="438.65" y2="80.97" stroke="#1a1a1a" stroke-width="1.3"/>
<text transform="translate(430.8 84.67) scale(1 1.15)" font-family='"Liberation Serif", serif' font-weight="bold" font-size="10.8" text-anchor="end">180</text>
<line x1="435.65" y1="51.09" x2="438.65" y2="51.09" stroke="#1a1a1a" stroke-width="1.2"/>
<line x1="433.65" y1="21.2" x2="438.65" y2="21.2" stroke="#1a1a1a" stroke-width="1.3"/>
<text transform="translate(430.8 24.9) scale(1 1.15)" font-family='"Liberation Serif", serif' font-weight="bold" font-size="10.8" text-anchor="end">240</text>
<line x1="477.8" y1="260.3" x2="477.8" y2="265.3" stroke="#1a1a1a" stroke-width="1.3"/>
<text transform="translate(477.8 276.9) scale(1 1.17)" font-family='"Liberation Serif", serif' font-weight="bold" font-size="10.8" text-anchor="middle">0</text>
<line x1="540.45" y1="260.3" x2="540.45" y2="265.3" stroke="#1a1a1a" stroke-width="1.3"/>
<text transform="translate(540.45 276.9) scale(1 1.17)" font-family='"Liberation Serif", serif' font-weight="bold" font-size="10.8" text-anchor="middle">24</text>
<line x1="603.1" y1="260.3" x2="603.1" y2="265.3" stroke="#1a1a1a" stroke-width="1.3"/>
<text transform="translate(603.1 276.9) scale(1 1.17)" font-family='"Liberation Serif", serif' font-weight="bold" font-size="10.8" text-anchor="middle">48</text>
<line x1="665.75" y1="260.3" x2="665.75" y2="265.3" stroke="#1a1a1a" stroke-width="1.3"/>
<text transform="translate(665.75 276.9) scale(1 1.17)" font-family='"Liberation Serif", serif' font-weight="bold" font-size="10.8" text-anchor="middle">72</text>
<line x1="728.4" y1="260.3" x2="728.4" y2="265.3" stroke="#1a1a1a" stroke-width="1.3"/>
<text transform="translate(728.4 276.9) scale(1 1.17)" font-family='"Liberation Serif", serif' font-weight="bold" font-size="10.8" text-anchor="middle">96</text>
<line x1="446.5" y1="260.3" x2="446.5" y2="263.3" stroke="#1a1a1a" stroke-width="1.2"/>
<line x1="509.1" y1="260.3" x2="509.1" y2="263.3" stroke="#1a1a1a" stroke-width="1.2"/>
<line x1="571.8" y1="260.3" x2="571.8" y2="263.3" stroke="#1a1a1a" stroke-width="1.2"/>
<line x1="634.4" y1="260.3" x2="634.4" y2="263.3" stroke="#1a1a1a" stroke-width="1.2"/>
<line x1="697.1" y1="260.3" x2="697.1" y2="263.3" stroke="#1a1a1a" stroke-width="1.2"/>
<line x1="759.7" y1="260.3" x2="759.7" y2="263.3" stroke="#1a1a1a" stroke-width="1.2"/>
<text transform="translate(599.3 290.5) scale(1 1.04)" font-family='"Liberation Serif", serif' font-weight="bold" font-size="11.9" text-anchor="middle">Time (h)</text>
<text transform="translate(409.2 125.9) rotate(-90)" font-family='"Liberation Sans", sans-serif' font-weight="bold" font-size="12.2" text-anchor="middle" textLength="151.8" lengthAdjust="spacingAndGlyphs">T-SOD  activity (U/mgprot)</text>
<text x="398.8" y="12.9" font-family='"Liberation Sans", sans-serif' font-weight="bold" font-size="14">B</text>
<rect x="701.3" y="25.7" width="54.4" height="40.8" fill="#fff" stroke="#8a8a8a" stroke-width="1"/>
<rect x="705.7" y="28.9" width="15.3" height="7.2" fill="url(#pC)" stroke="#111" stroke-width="1.2"/>
<text transform="translate(724 35.3) scale(1 1)" font-family='"Liberation Sans", sans-serif' font-weight="bold" font-size="7.2">Control</text>
<rect x="705.7" y="38.5" width="15.3" height="6.6" fill="url(#pPET)" stroke="#111" stroke-width="1.2"/>
<text transform="translate(724 44.3) scale(1 1)" font-family='"Liberation Sans", sans-serif' font-weight="bold" font-size="7.2">PET</text>
<rect x="705.7" y="47.6" width="15.3" height="6.5" fill="url(#pPA)" stroke="#111" stroke-width="1.2"/>
<text transform="translate(724 53.3) scale(1 1)" font-family='"Liberation Sans", sans-serif' font-weight="bold" font-size="7.2">PA66</text>
<rect x="705.7" y="56.6" width="15.3" height="6.8" fill="#7a0000" stroke="#111" stroke-width="1.2"/>
<text transform="translate(724 62.6) scale(1 1)" font-family='"Liberation Sans", sans-serif' font-weight="bold" font-size="7.2">PE</text>
<rect x="266.85" y="437.5" width="1.7" height="119.9" fill="#c0c0c0"/>
<rect x="258.75" y="434.25" width="7.55" height="123.15" fill="url(#pC)" stroke="#0a0a0a" stroke-width="1.1"/>
<line x1="262.52" y1="427.3" x2="262.52" y2="440.1" stroke="#111" stroke-width="1.2"/>
<line x1="259.92" y1="427.3" x2="265.12" y2="427.3" stroke="#111" stroke-width="1.4"/>
<line x1="259.92" y1="440.1" x2="265.12" y2="440.1" stroke="#111" stroke-width="1.2"/>
<rect x="277.2" y="437.5" width="1.7" height="119.9" fill="#c0c0c0"/>
<rect x="269.1" y="438.05" width="7.55" height="119.35" fill="url(#pPET)" stroke="#0a0a0a" stroke-width="1.1"/>
<line x1="272.88" y1="431.4" x2="272.88" y2="443.6" stroke="#111" stroke-width="1.2"/>
<line x1="270.27" y1="431.4" x2="275.48" y2="431.4" stroke="#111" stroke-width="1.4"/>
<line x1="270.27" y1="443.6" x2="275.48" y2="443.6" stroke="#111" stroke-width="1.2"/>
<rect x="287.55" y="437.8" width="1.7" height="119.6" fill="#c0c0c0"/>
<rect x="279.45" y="435.05" width="7.55" height="122.35" fill="url(#pPA)" stroke="#0a0a0a" stroke-width="1.1"/>
<line x1="283.22" y1="426.9" x2="283.22" y2="442.1" stroke="#111" stroke-width="1.2"/>
<line x1="280.62" y1="426.9" x2="285.82" y2="426.9" stroke="#111" stroke-width="1.4"/>
<line x1="280.62" y1="442.1" x2="285.82" y2="442.1" stroke="#111" stroke-width="1.2"/>
<rect x="289.8" y="438.35" width="7.55" height="119.05" fill="url(#pPE)" stroke="#0a0a0a" stroke-width="1.1"/>
<line x1="293.57" y1="432.6" x2="293.57" y2="443" stroke="#111" stroke-width="1.2"/>
<line x1="290.97" y1="432.6" x2="296.18" y2="432.6" stroke="#111" stroke-width="1.4"/>
<line x1="290.97" y1="443" x2="296.18" y2="443" stroke="#111" stroke-width="1.2"/>
<rect x="331.05" y="441.8" width="1.7" height="115.6" fill="#c0c0c0"/>
<rect x="322.95" y="442.35" width="7.55" height="115.05" fill="url(#pC)" stroke="#0a0a0a" stroke-width="1.1"/>
<line x1="326.72" y1="432.6" x2="326.72" y2="451" stroke="#111" stroke-width="1.2"/>
<line x1="324.12" y1="432.6" x2="329.32" y2="432.6" stroke="#111" stroke-width="1.4"/>
<line x1="324.12" y1="451" x2="329.32" y2="451" stroke="#111" stroke-width="1.2"/>
<rect x="341.4" y="405.6" width="1.7" height="151.8" fill="#c0c0c0"/>
<rect x="333.3" y="406.15" width="7.55" height="151.25" fill="url(#pPET)" stroke="#0a0a0a" stroke-width="1.1"/>
<line x1="337.07" y1="398.8" x2="337.07" y2="412.4" stroke="#111" stroke-width="1.2"/>
<line x1="334.47" y1="398.8" x2="339.68" y2="398.8" stroke="#111" stroke-width="1.4"/>
<line x1="334.47" y1="412.4" x2="339.68" y2="412.4" stroke="#111" stroke-width="1.2"/>
<rect x="351.75" y="408.9" width="1.7" height="148.5" fill="#c0c0c0"/>
<rect x="343.65" y="400.85" width="7.55" height="156.55" fill="url(#pPA)" stroke="#0a0a0a" stroke-width="1.1"/>
<line x1="347.42" y1="395" x2="347.42" y2="405.6" stroke="#111" stroke-width="1.2"/>
<line x1="344.82" y1="395" x2="350.02" y2="395" stroke="#111" stroke-width="1.4"/>
<line x1="344.82" y1="405.6" x2="350.02" y2="405.6" stroke="#111" stroke-width="1.2"/>
<rect x="354" y="409.45" width="7.55" height="147.95" fill="url(#pPE)" stroke="#0a0a0a" stroke-width="1.1"/>
<line x1="357.77" y1="399.8" x2="357.77" y2="418" stroke="#111" stroke-width="1.2"/>
<line x1="355.17" y1="399.8" x2="360.38" y2="399.8" stroke="#111" stroke-width="1.4"/>
<line x1="355.17" y1="418" x2="360.38" y2="418" stroke="#111" stroke-width="1.2"/>
<rect x="395.3" y="445.1" width="1.7" height="112.3" fill="#c0c0c0"/>
<rect x="387.2" y="445.65" width="7.55" height="111.75" fill="url(#pC)" stroke="#0a0a0a" stroke-width="1.1"/>
<line x1="390.97" y1="439" x2="390.97" y2="451.2" stroke="#111" stroke-width="1.2"/>
<line x1="388.37" y1="439" x2="393.57" y2="439" stroke="#111" stroke-width="1.4"/>
<line x1="388.37" y1="451.2" x2="393.57" y2="451.2" stroke="#111" stroke-width="1.2"/>
<rect x="405.65" y="409.5" width="1.7" height="147.9" fill="#c0c0c0"/>
<rect x="397.55" y="410.05" width="7.55" height="147.35" fill="url(#pPET)" stroke="#0a0a0a" stroke-width="1.1"/>
<line x1="401.32" y1="402.6" x2="401.32" y2="416.4" stroke="#111" stroke-width="1.2"/>
<line x1="398.72" y1="402.6" x2="403.93" y2="402.6" stroke="#111" stroke-width="1.4"/>
<line x1="398.72" y1="416.4" x2="403.93" y2="416.4" stroke="#111" stroke-width="1.2"/>
<rect x="416" y="416.7" width="1.7" height="140.7" fill="#c0c0c0"/>
<rect x="407.9" y="405.85" width="7.55" height="151.55" fill="url(#pPA)" stroke="#0a0a0a" stroke-width="1.1"/>
<line x1="411.67" y1="397.5" x2="411.67" y2="413.1" stroke="#111" stroke-width="1.2"/>
<line x1="409.07" y1="397.5" x2="414.27" y2="397.5" stroke="#111" stroke-width="1.4"/>
<line x1="409.07" y1="413.1" x2="414.27" y2="413.1" stroke="#111" stroke-width="1.2"/>
<rect x="418.25" y="417.25" width="7.55" height="140.15" fill="url(#pPE)" stroke="#0a0a0a" stroke-width="1.1"/>
<line x1="422.02" y1="413.2" x2="422.02" y2="420.2" stroke="#111" stroke-width="1.2"/>
<line x1="419.42" y1="413.2" x2="424.62" y2="413.2" stroke="#111" stroke-width="1.4"/>
<line x1="419.42" y1="420.2" x2="424.62" y2="420.2" stroke="#111" stroke-width="1.2"/>
<rect x="459.55" y="442.4" width="1.7" height="115" fill="#c0c0c0"/>
<rect x="451.45" y="442.95" width="7.55" height="114.45" fill="url(#pC)" stroke="#0a0a0a" stroke-width="1.1"/>
<line x1="455.22" y1="430.2" x2="455.22" y2="454.6" stroke="#111" stroke-width="1.2"/>
<line x1="452.62" y1="430.2" x2="457.82" y2="430.2" stroke="#111" stroke-width="1.4"/>
<line x1="452.62" y1="454.6" x2="457.82" y2="454.6" stroke="#111" stroke-width="1.2"/>
<rect x="469.9" y="421.5" width="1.7" height="135.9" fill="#c0c0c0"/>
<rect x="461.8" y="422.05" width="7.55" height="135.35" fill="url(#pPET)" stroke="#0a0a0a" stroke-width="1.1"/>
<line x1="465.57" y1="415.5" x2="465.57" y2="427.5" stroke="#111" stroke-width="1.2"/>
<line x1="462.97" y1="415.5" x2="468.18" y2="415.5" stroke="#111" stroke-width="1.4"/>
<line x1="462.97" y1="427.5" x2="468.18" y2="427.5" stroke="#111" stroke-width="1.2"/>
<rect x="480.25" y="424.6" width="1.7" height="132.8" fill="#c0c0c0"/>
<rect x="472.15" y="419.05" width="7.55" height="138.35" fill="url(#pPA)" stroke="#0a0a0a" stroke-width="1.1"/>
<line x1="475.92" y1="410.5" x2="475.92" y2="426.5" stroke="#111" stroke-width="1.2"/>
<line x1="473.32" y1="410.5" x2="478.52" y2="410.5" stroke="#111" stroke-width="1.4"/>
<line x1="473.32" y1="426.5" x2="478.52" y2="426.5" stroke="#111" stroke-width="1.2"/>
<rect x="482.5" y="425.15" width="7.55" height="132.25" fill="url(#pPE)" stroke="#0a0a0a" stroke-width="1.1"/>
<line x1="486.27" y1="409.4" x2="486.27" y2="439.8" stroke="#111" stroke-width="1.2"/>
<line x1="483.67" y1="409.4" x2="488.88" y2="409.4" stroke="#111" stroke-width="1.4"/>
<line x1="483.67" y1="439.8" x2="488.88" y2="439.8" stroke="#111" stroke-width="1.2"/>
<rect x="523.75" y="445.9" width="1.7" height="111.5" fill="#c0c0c0"/>
<rect x="515.65" y="446.45" width="7.55" height="110.95" fill="url(#pC)" stroke="#0a0a0a" stroke-width="1.1"/>
<line x1="519.43" y1="425.7" x2="519.43" y2="466.1" stroke="#111" stroke-width="1.2"/>
<line x1="516.83" y1="425.7" x2="522.03" y2="425.7" stroke="#111" stroke-width="1.4"/>
<line x1="516.83" y1="466.1" x2="522.03" y2="466.1" stroke="#111" stroke-width="1.2"/>
<rect x="534.1" y="428.7" width="1.7" height="128.7" fill="#c0c0c0"/>
<rect x="526" y="429.25" width="7.55" height="128.15" fill="url(#pPET)" stroke="#0a0a0a" stroke-width="1.1"/>
<line x1="529.77" y1="424.6" x2="529.77" y2="432.8" stroke="#111" stroke-width="1.2"/>
<line x1="527.17" y1="424.6" x2="532.38" y2="424.6" stroke="#111" stroke-width="1.4"/>
<line x1="527.17" y1="432.8" x2="532.38" y2="432.8" stroke="#111" stroke-width="1.2"/>
<rect x="544.45" y="428.1" width="1.7" height="129.3" fill="#c0c0c0"/>
<rect x="536.35" y="428.65" width="7.55" height="128.75" fill="url(#pPA)" stroke="#0a0a0a" stroke-width="1.1"/>
<line x1="540.12" y1="421.5" x2="540.12" y2="434.7" stroke="#111" stroke-width="1.2"/>
<line x1="537.52" y1="421.5" x2="542.73" y2="421.5" stroke="#111" stroke-width="1.4"/>
<line x1="537.52" y1="434.7" x2="542.73" y2="434.7" stroke="#111" stroke-width="1.2"/>
<rect x="546.7" y="426.65" width="7.55" height="130.75" fill="url(#pPE)" stroke="#0a0a0a" stroke-width="1.1"/>
<line x1="550.48" y1="420.8" x2="550.48" y2="431.4" stroke="#111" stroke-width="1.2"/>
<line x1="547.88" y1="420.8" x2="553.08" y2="420.8" stroke="#111" stroke-width="1.4"/>
<line x1="547.88" y1="431.4" x2="553.08" y2="431.4" stroke="#111" stroke-width="1.2"/>
<polygon points="337,392.25 337.65,393.81 339.33,393.94 338.05,395.04 338.44,396.68 337,395.8 335.56,396.68 335.95,395.04 334.67,393.94 336.35,393.81" fill="#111"/>
<polygon points="347.3,389.45 347.95,391.01 349.63,391.14 348.35,392.24 348.74,393.88 347.3,393 345.86,393.88 346.25,392.24 344.97,391.14 346.65,391.01" fill="#111"/>
<polygon points="357.2,392.85 357.85,394.41 359.53,394.54 358.25,395.64 358.64,397.28 357.2,396.4 355.76,397.28 356.15,395.64 354.87,394.54 356.55,394.41" fill="#111"/>
<polygon points="401,394.35 401.65,395.91 403.33,396.04 402.05,397.14 402.44,398.78 401,397.9 399.56,398.78 399.95,397.14 398.67,396.04 400.35,395.91" fill="#111"/>
<polygon points="411.3,390.65 411.95,392.21 413.63,392.34 412.35,393.44 412.74,395.08 411.3,394.2 409.86,395.08 410.25,393.44 408.97,392.34 410.65,392.21" fill="#111"/>
<polygon points="421,405.85 421.65,407.41 423.33,407.54 422.05,408.64 422.44,410.28 421,409.4 419.56,410.28 419.95,408.64 418.67,407.54 420.35,407.41" fill="#111"/>
<polygon points="465.3,409.25 465.95,410.81 467.63,410.94 466.35,412.04 466.74,413.68 465.3,412.8 463.86,413.68 464.25,412.04 462.97,410.94 464.65,410.81" fill="#111"/>
<polygon points="475.5,403.45 476.15,405.01 477.83,405.14 476.55,406.24 476.94,407.88 475.5,407 474.06,407.88 474.45,406.24 473.17,405.14 474.85,405.01" fill="#111"/>
<polygon points="485.5,402.35 486.15,403.91 487.83,404.04 486.55,405.14 486.94,406.78 485.5,405.9 484.06,406.78 484.45,405.14 483.17,404.04 484.85,403.91" fill="#111"/>
<polygon points="529.4,417.55 530.05,419.11 531.73,419.24 530.45,420.34 530.84,421.98 529.4,421.1 527.96,421.98 528.35,420.34 527.07,419.24 528.75,419.11" fill="#111"/>
<polygon points="539.8,413.45 540.45,415.01 542.13,415.14 540.85,416.24 541.24,417.88 539.8,417 538.36,417.88 538.75,416.24 537.47,415.14 539.15,415.01" fill="#111"/>
<polygon points="549.8,413.75 550.45,415.31 552.13,415.44 550.85,416.54 551.24,418.18 549.8,417.3 548.36,418.18 548.75,416.54 547.47,415.44 549.15,415.31" fill="#111"/>
<line x1="274" y1="386.2" x2="528.4" y2="386.2" stroke="#2a2a2a" stroke-width="1.1"/>
<line x1="274.5" y1="385.7" x2="274.5" y2="415.9" stroke="#2a2a2a" stroke-width="1.1"/>
<line x1="337" y1="385.7" x2="337" y2="389.6" stroke="#2a2a2a" stroke-width="1.1"/>
<line x1="400.5" y1="385.7" x2="400.5" y2="392.7" stroke="#2a2a2a" stroke-width="1.1"/>
<line x1="464.5" y1="385.7" x2="464.5" y2="402.9" stroke="#2a2a2a" stroke-width="1.1"/>
<line x1="527.9" y1="385.7" x2="527.9" y2="408.9" stroke="#2a2a2a" stroke-width="1.1"/>
<line x1="281.5" y1="374.6" x2="539.4" y2="374.6" stroke="#2a2a2a" stroke-width="1.1"/>
<line x1="282" y1="374.1" x2="282" y2="417.4" stroke="#2a2a2a" stroke-width="1.1"/>
<line x1="347.3" y1="374.1" x2="347.3" y2="391.2" stroke="#2a2a2a" stroke-width="1.1"/>
<line x1="411.5" y1="374.1" x2="411.5" y2="390.4" stroke="#2a2a2a" stroke-width="1.1"/>
<line x1="475.3" y1="374.1" x2="475.3" y2="398.8" stroke="#2a2a2a" stroke-width="1.1"/>
<line x1="538.9" y1="374.1" x2="538.9" y2="408.9" stroke="#2a2a2a" stroke-width="1.1"/>
<line x1="294" y1="364" x2="548" y2="364" stroke="#2a2a2a" stroke-width="1.1"/>
<line x1="294.5" y1="363.5" x2="294.5" y2="421.5" stroke="#2a2a2a" stroke-width="1.1"/>
<line x1="357.2" y1="363.5" x2="357.2" y2="391.2" stroke="#2a2a2a" stroke-width="1.1"/>
<line x1="420.7" y1="363.5" x2="420.7" y2="397.2" stroke="#2a2a2a" stroke-width="1.1"/>
<line x1="484" y1="363.5" x2="484" y2="397.2" stroke="#2a2a2a" stroke-width="1.1"/>
<line x1="547.5" y1="363.5" x2="547.5" y2="401" stroke="#2a2a2a" stroke-width="1.1"/>
<text x="403.6" y="383.6" font-family='"Liberation Serif", serif' font-weight="bold" font-size="8.8" text-anchor="middle">a</text>
<text x="410.8" y="372" font-family='"Liberation Serif", serif' font-weight="bold" font-size="8.8" text-anchor="middle">b</text>
<text x="419.6" y="362" font-family='"Liberation Serif", serif' font-weight="bold" font-size="8.8" text-anchor="middle">c</text>
<rect x="246.05" y="318.3" width="320.95" height="239.1" fill="none" stroke="#1a1a1a" stroke-width="1.3"/>
<line x1="241.05" y1="557.4" x2="246.05" y2="557.4" stroke="#1a1a1a" stroke-width="1.3"/>
<text transform="translate(238.3 561) scale(1 1.15)" font-family='"Liberation Serif", serif' font-weight="bold" font-size="10.5" text-anchor="end">0</text>
<line x1="243.05" y1="527.51" x2="246.05" y2="527.51" stroke="#1a1a1a" stroke-width="1.2"/>
<line x1="241.05" y1="497.62" x2="246.05" y2="497.62" stroke="#1a1a1a" stroke-width="1.3"/>
<text transform="translate(238.3 501.23) scale(1 1.15)" font-family='"Liberation Serif", serif' font-weight="bold" font-size="10.5" text-anchor="end">15</text>
<line x1="243.05" y1="467.74" x2="246.05" y2="467.74" stroke="#1a1a1a" stroke-width="1.2"/>
<line x1="241.05" y1="437.85" x2="246.05" y2="437.85" stroke="#1a1a1a" stroke-width="1.3"/>
<text transform="translate(238.3 441.45) scale(1 1.15)" font-family='"Liberation Serif", serif' font-weight="bold" font-size="10.5" text-anchor="end">30</text>
<line x1="243.05" y1="407.96" x2="246.05" y2="407.96" stroke="#1a1a1a" stroke-width="1.2"/>
<line x1="241.05" y1="378.07" x2="246.05" y2="378.07" stroke="#1a1a1a" stroke-width="1.3"/>
<text transform="translate(238.3 381.68) scale(1 1.15)" font-family='"Liberation Serif", serif' font-weight="bold" font-size="10.5" text-anchor="end">45</text>
<line x1="243.05" y1="348.19" x2="246.05" y2="348.19" stroke="#1a1a1a" stroke-width="1.2"/>
<line x1="241.05" y1="318.3" x2="246.05" y2="318.3" stroke="#1a1a1a" stroke-width="1.3"/>
<text transform="translate(238.3 321.9) scale(1 1.15)" font-family='"Liberation Serif", serif' font-weight="bold" font-size="10.5" text-anchor="end">60</text>
<line x1="278" y1="557.4" x2="278" y2="562.4" stroke="#1a1a1a" stroke-width="1.3"/>
<text transform="translate(278 573.5) scale(1 1.17)" font-family='"Liberation Serif", serif' font-weight="bold" font-size="10.5" text-anchor="middle">0</text>
<line x1="342.2" y1="557.4" x2="342.2" y2="562.4" stroke="#1a1a1a" stroke-width="1.3"/>
<text transform="translate(342.2 573.5) scale(1 1.17)" font-family='"Liberation Serif", serif' font-weight="bold" font-size="10.5" text-anchor="middle">24</text>
<line x1="406.45" y1="557.4" x2="406.45" y2="562.4" stroke="#1a1a1a" stroke-width="1.3"/>
<text transform="translate(406.45 573.5) scale(1 1.17)" font-family='"Liberation Serif", serif' font-weight="bold" font-size="10.5" text-anchor="middle">48</text>
<line x1="470.7" y1="557.4" x2="470.7" y2="562.4" stroke="#1a1a1a" stroke-width="1.3"/>
<text transform="translate(470.7 573.5) scale(1 1.17)" font-family='"Liberation Serif", serif' font-weight="bold" font-size="10.5" text-anchor="middle">72</text>
<line x1="534.9" y1="557.4" x2="534.9" y2="562.4" stroke="#1a1a1a" stroke-width="1.3"/>
<text transform="translate(534.9 573.5) scale(1 1.17)" font-family='"Liberation Serif", serif' font-weight="bold" font-size="10.5" text-anchor="middle">96</text>
<line x1="246.05" y1="557.4" x2="246.05" y2="560.4" stroke="#1a1a1a" stroke-width="1.2"/>
<line x1="310.1" y1="557.4" x2="310.1" y2="560.4" stroke="#1a1a1a" stroke-width="1.2"/>
<line x1="374.3" y1="557.4" x2="374.3" y2="560.4" stroke="#1a1a1a" stroke-width="1.2"/>
<line x1="438.6" y1="557.4" x2="438.6" y2="560.4" stroke="#1a1a1a" stroke-width="1.2"/>
<line x1="502.8" y1="557.4" x2="502.8" y2="560.4" stroke="#1a1a1a" stroke-width="1.2"/>
<line x1="567" y1="557.4" x2="567" y2="560.4" stroke="#1a1a1a" stroke-width="1.2"/>
<text transform="translate(409.3 586.5) scale(1 1.04)" font-family='"Liberation Serif", serif' font-weight="bold" font-size="11.9" text-anchor="middle">Time (h)</text>
<text transform="translate(219.3 445.4) rotate(-90)" font-family='"Liberation Serif", serif' font-weight="bold" font-size="11.8" text-anchor="middle" textLength="128.6" lengthAdjust="spacingAndGlyphs">GSH activity (U/mgprot)</text>
<text x="210.2" y="316.3" font-family='"Liberation Sans", sans-serif' font-weight="bold" font-size="14">C</text>
<rect x="510.3" y="319.7" width="53.2" height="41.4" fill="#fff" stroke="#8a8a8a" stroke-width="1"/>
<rect x="514.9" y="323.5" width="15.5" height="6.9" fill="url(#pC)" stroke="#111" stroke-width="1.2"/>
<text transform="translate(532.8 329.5) scale(1 1)" font-family='"Liberation Serif", serif' font-weight="bold" font-size="7.2">Control</text>
<rect x="514.9" y="332.7" width="15.5" height="6.9" fill="url(#pPET)" stroke="#111" stroke-width="1.2"/>
<text transform="translate(532.8 339) scale(1 1)" font-family='"Liberation Serif", serif' font-weight="bold" font-size="7.2">PET</text>
<rect x="514.9" y="342.5" width="15.5" height="6.4" fill="url(#pPA)" stroke="#111" stroke-width="1.2"/>
<text transform="translate(532.8 348) scale(1 1)" font-family='"Liberation Serif", serif' font-weight="bold" font-size="7.2">PA66</text>
<rect x="514.9" y="351.6" width="15.5" height="6.5" fill="url(#pPE)" stroke="#111" stroke-width="1.2"/>
<text transform="translate(532.8 357.2) scale(1 1)" font-family='"Liberation Serif", serif' font-weight="bold" font-size="7.2">PE</text>
</svg></body></html>
